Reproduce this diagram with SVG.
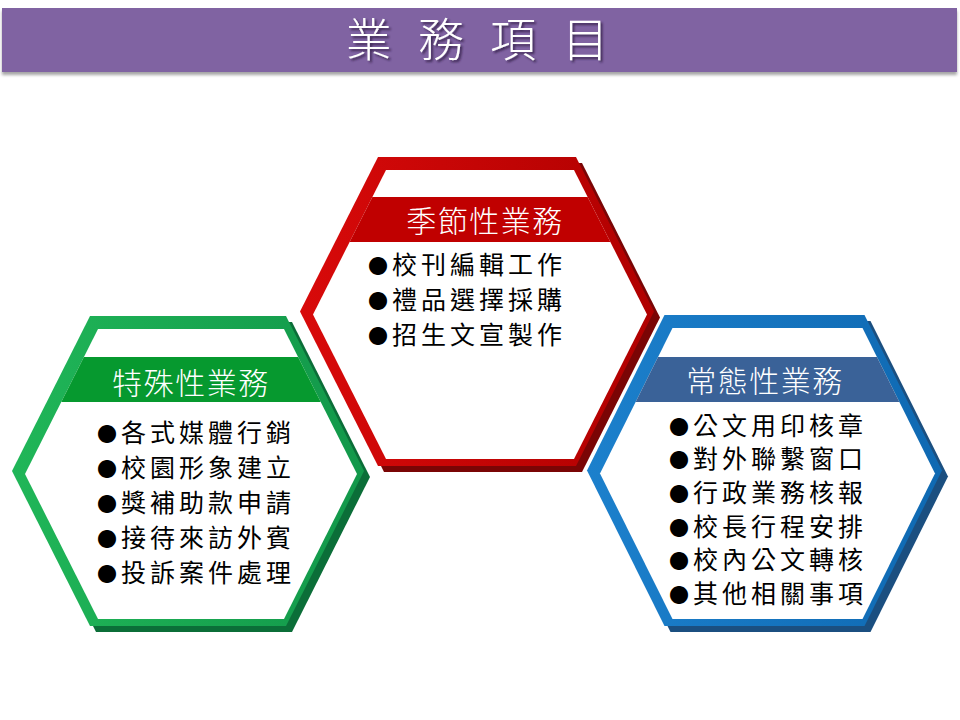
<svg xmlns="http://www.w3.org/2000/svg" width="960" height="720" viewBox="0 0 960 720">
<defs>
<style>
.ttl{font-family:"Noto Sans CJK TC","Noto Sans CJK SC",sans-serif;font-size:46px;font-weight:300;fill:#fff;letter-spacing:8px}
.band{font-family:"Noto Sans CJK TC","Noto Sans CJK SC",sans-serif;font-size:30px;font-weight:300;fill:#fff;text-anchor:middle;letter-spacing:1.5px}
.item{font-family:"Noto Sans CJK TC","Noto Sans CJK SC",sans-serif;font-size:25px;fill:#000;letter-spacing:4px}
.dot{font-size:20px}
.inner{fill:#fff}
</style>
<linearGradient id="gR" x1="0" y1="0" x2="1" y2="0"><stop offset="0" stop-color="#D80A0A"/><stop offset="1" stop-color="#B00000"/></linearGradient>
<linearGradient id="gG" x1="0" y1="0" x2="1" y2="0"><stop offset="0" stop-color="#20B658"/><stop offset="1" stop-color="#12984A"/></linearGradient>
<linearGradient id="gB" x1="0" y1="0" x2="1" y2="0"><stop offset="0" stop-color="#1C80CC"/><stop offset="1" stop-color="#0F69B2"/></linearGradient>
<filter id="barShadow" x="-5%" y="-20%" width="110%" height="160%"><feDropShadow dx="0" dy="3" stdDeviation="1.5" flood-color="#000" flood-opacity="0.35"/></filter>
<filter id="txtShadow" x="-10%" y="-10%" width="130%" height="140%"><feDropShadow dx="2" dy="2" stdDeviation="0.8" flood-color="#2a1a40" flood-opacity="0.8"/></filter>
<clipPath id="cR"><polygon points="386,170 574,170 647,314.5 574,459 386,459 313,314.5"/></clipPath>
<clipPath id="cG"><polygon points="98,329 284,329 357,474 284,619 98,619 25,474"/></clipPath>
<clipPath id="cB"><polygon points="672.5,328 862.5,328 935,473.5 862.5,619 672.5,619 600,473.5"/></clipPath>
</defs>
<rect width="960" height="720" fill="#fff"/>
<g id="title">
<rect x="2" y="8" width="955" height="64" fill="#8064A2" filter="url(#barShadow)"/>
<text class="ttl" x="481" y="56" text-anchor="middle" filter="url(#txtShadow)">業 務 項 目</text>
</g>
<g id="node-seasonal">
<polygon points="384,163 582,163 660,317.5 582,472 384,472 306,317.5" fill="#7A0505"/>
<polygon points="378,157 576,157 654,311.5 576,466 378,466 300,311.5" fill="url(#gR)"/>
<polygon class="inner" points="386,170 574,170 647,314.5 574,459 386,459 313,314.5"/>
<rect x="300" y="197" width="360" height="45" fill="#C00000" clip-path="url(#cR)"/>
<text class="band" x="485" y="232">季節性業務</text>
<text class="item" x="368" y="273.5"><tspan class="dot">●</tspan>校刊編輯工作</text>
<text class="item" x="368" y="308.5"><tspan class="dot">●</tspan>禮品選擇採購</text>
<text class="item" x="368" y="343.5"><tspan class="dot">●</tspan>招生文宣製作</text>
</g>
<g id="node-special">
<polygon points="96,322 292,322 370,477 292,632 96,632 18,477" fill="#0B6E38"/>
<polygon points="90,316 286,316 364,471 286,626 90,626 12,471" fill="url(#gG)"/>
<polygon class="inner" points="98,329 284,329 357,474 284,619 98,619 25,474"/>
<rect x="12" y="357" width="360" height="45" fill="#06992F" clip-path="url(#cG)"/>
<text class="band" x="191" y="394">特殊性業務</text>
<text class="item" x="97" y="441.5"><tspan class="dot">●</tspan>各式媒體行銷</text>
<text class="item" x="97" y="476.5"><tspan class="dot">●</tspan>校園形象建立</text>
<text class="item" x="97" y="512"><tspan class="dot">●</tspan>獎補助款申請</text>
<text class="item" x="97" y="547"><tspan class="dot">●</tspan>接待來訪外賓</text>
<text class="item" x="97" y="582"><tspan class="dot">●</tspan>投訴案件處理</text>
</g>
<g id="node-regular">
<polygon points="670.5,321 870.5,321 948,476.5 870.5,632 670.5,632 593,476.5" fill="#1B4F80"/>
<polygon points="664.5,315 864.5,315 942,470.5 864.5,626 664.5,626 587,470.5" fill="url(#gB)"/>
<polygon class="inner" points="672.5,328 862.5,328 935,473.5 862.5,619 672.5,619 600,473.5"/>
<rect x="587" y="357" width="360" height="45" fill="#3A6298" clip-path="url(#cB)"/>
<text class="band" x="765" y="392">常態性業務</text>
<text class="item" x="669" y="434.5"><tspan class="dot">●</tspan>公文用印核章</text>
<text class="item" x="669" y="468"><tspan class="dot">●</tspan>對外聯繫窗口</text>
<text class="item" x="669" y="502"><tspan class="dot">●</tspan>行政業務核報</text>
<text class="item" x="669" y="535.5"><tspan class="dot">●</tspan>校長行程安排</text>
<text class="item" x="669" y="569"><tspan class="dot">●</tspan>校內公文轉核</text>
<text class="item" x="669" y="602.5"><tspan class="dot">●</tspan>其他相關事項</text>
</g>
</svg>
